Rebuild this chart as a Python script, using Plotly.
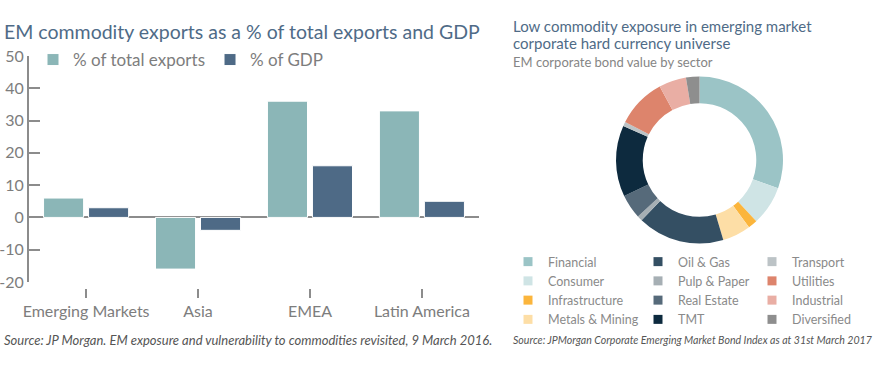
import plotly.graph_objects as go

# ---------------- data ----------------
regions = ["Emerging Markets", "Asia", "EMEA", "Latin America"]
pct_total_exports = [6, -16, 36, 33]
pct_gdp = [3, -4, 16, 5]
y_tick_vals = [-20, -10, 0, 10, 20, 30, 40, 50]
y_tick_text = ["-20", "-10", "0", "10", "20", "30", "40", "50"]

sectors = ["Financial", "Consumer", "Infrastructure", "Metals & Mining",
           "Oil & Gas", "Pulp & Paper", "Real Estate", "TMT",
           "Transport", "Utilities", "Industrial", "Diversified"]
sector_share = [30.5, 7.6, 1.8, 5.5, 16.8, 1.0, 4.7, 13.8, 0.8, 9.6, 5.3, 2.6]
sector_colors = ["#9bc4c6", "#cfe4e5", "#fbb53c", "#fddea6",
                 "#344f63", "#a6afb4", "#566a7a", "#0d2a3e",
                 "#bcc3c6", "#dd846c", "#e9aea4", "#8e8e8e"]

# ---------------- helpers (pixel -> paper, margins are zero) ----------------
W, H = 883, 372
def fx(p):
    return p / W
def fy(p):
    return 1 - p / H

TITLE_BLUE = "#4f6b87"
GREY_TXT = "#7d7d7d"
AX_GREY = "#8c8c8c"
FONT = "Lato"

fig = go.Figure()

fig.add_trace(go.Bar(x=regions, y=pct_total_exports, name="% of total exports",
                     marker=dict(color="#8bb6b7", line=dict(color="white", width=1)),
                     legend="legend"))
fig.add_trace(go.Bar(x=regions, y=pct_gdp, name="% of GDP",
                     marker=dict(color="#4e6a86", line=dict(color="white", width=1)),
                     legend="legend"))

fig.add_trace(go.Pie(labels=sectors, values=sector_share, hole=0.68, sort=False,
                     direction="clockwise", rotation=0, textinfo="none",
                     marker=dict(colors=sector_colors, line=dict(width=0)),
                     showlegend=False,
                     domain=dict(x=[fx(616), fx(783)], y=[fy(243.5), fy(76.5)])))

legend_ids = ["legend2", "legend3", "legend4"]
for i, (s, c) in enumerate(zip(sectors, sector_colors)):
    fig.add_trace(go.Scatter(x=[None], y=[None], mode="markers", name=s,
                             marker=dict(symbol="square", size=9, color=c),
                             legend=legend_ids[i // 4], hoverinfo="skip"))

leg_font = dict(family=FONT, size=12.5, color="#8a8a8a")
sector_legend = lambda x: dict(x=fx(x), y=fy(247), xanchor="left", yanchor="top",
                               orientation="v", bgcolor="rgba(0,0,0,0)",
                               font=leg_font, itemclick=False, itemdoubleclick=False)

fig.update_layout(
    template="none",
    width=W, height=H,
    margin=dict(l=0, r=0, t=0, b=0, autoexpand=False),
    paper_bgcolor="white", plot_bgcolor="white",
    barmode="group", bargap=0.196, bargroupgap=0.11,
    font=dict(family=FONT, color=GREY_TXT),
    xaxis=dict(domain=[fx(29), fx(479)], anchor="free", position=fy(288),
               range=[-0.51, 3.51], showline=False, showgrid=False, zeroline=False,
               automargin=False,
               ticks="outside", ticklen=9, tickwidth=1.5, tickcolor=AX_GREY,
               tickfont=dict(family=FONT, size=16, color=GREY_TXT)),
    yaxis=dict(domain=[fy(282), fy(56)], range=[-20, 50], automargin=False,
               tickvals=y_tick_vals, ticktext=y_tick_text,
               ticks="inside", ticklen=11, tickwidth=2, tickcolor=AX_GREY,
               showline=True, linecolor=AX_GREY, linewidth=2,
               showgrid=False, zeroline=True, zerolinecolor=AX_GREY, zerolinewidth=2,
               tickfont=dict(family=FONT, size=16, color=GREY_TXT)),
    legend=dict(x=fx(33), y=fy(60), xanchor="left", yanchor="middle",
                orientation="h", bgcolor="rgba(0,0,0,0)",
                font=dict(family=FONT, size=17, color=GREY_TXT)),
    legend2=sector_legend(508),
    legend3=sector_legend(638),
    legend4=sector_legend(752),
    showlegend=True,
)

annotations = [
    dict(text="EM commodity exports as a % of total exports and GDP", x=fx(2), y=fy(31),
         font=dict(family=FONT, size=19.5, color=TITLE_BLUE)),
    dict(text="Low commodity exposure in emerging market", x=fx(511), y=fy(26),
         font=dict(family=FONT, size=15, color=TITLE_BLUE)),
    dict(text="corporate hard currency universe", x=fx(511), y=fy(42.5),
         font=dict(family=FONT, size=15, color=TITLE_BLUE)),
    dict(text="EM corporate bond value by sector", x=fx(511), y=fy(62),
         font=dict(family=FONT, size=13, color="#858585")),
    dict(text="<i>Source: JP Morgan. EM exposure and vulnerability to commodities revisited, 9 March 2016.</i>",
         x=fx(2), y=fy(340), font=dict(family=FONT, size=13, color="#555555")),
    dict(text="<i>Source: JPMorgan Corporate Emerging Market Bond Index as at 31st March 2017</i>",
         x=fx(511), y=fy(340), font=dict(family=FONT, size=10.6, color="#555555")),
]
for a in annotations:
    a.update(xref="paper", yref="paper", xanchor="left", yanchor="middle",
             showarrow=False, align="left")
fig.update_layout(annotations=annotations)

fig.write_html("out.html", config={"displayModeBar": False},
               post_script="document.body.style.margin='0';document.body.style.overflow='hidden';")
